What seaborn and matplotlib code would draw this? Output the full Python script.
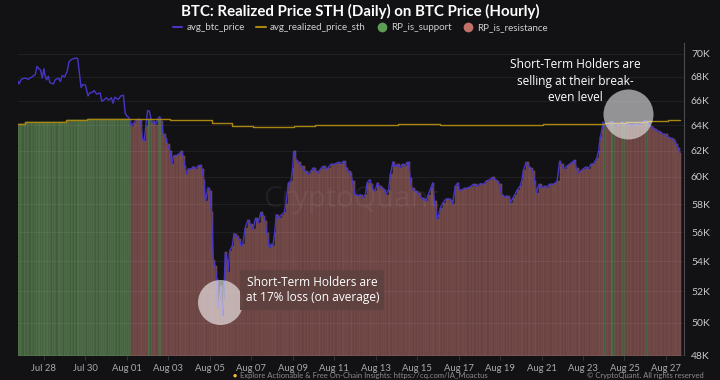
import numpy as np
import pandas as pd
import matplotlib
matplotlib.use("Agg")
import matplotlib.pyplot as plt
import matplotlib.dates as mdates
from matplotlib.lines import Line2D
from matplotlib.ticker import FixedLocator, FuncFormatter, NullLocator
import seaborn as sns

# ---------------- data (hours since 2024-07-28 00:00, BTC price in K USD) -------------
seg_a_hours = [-30, -29, -26, -22, -18, -14, -10, -8, -6, -4, -2, 0, 1, 3, 5, 7, 11, 13, 17, 19,
               21, 24, 27, 29, 32, 36, 39, 41, 43, 45, 48, 51, 53, 56, 58, 61, 65, 67, 70, 72,
               75, 78, 80, 82, 86, 89, 92, 94, 96, 98, 101, 104, 107, 110, 112, 114, 116, 118, 120, 122,
               125, 127, 129, 132, 134, 136, 138, 141, 143, 146, 148, 150, 154, 157, 159, 161, 163, 165, 167, 170,
               173, 175, 178, 181, 183, 185, 187, 190, 192, 194, 196, 198, 200, 201, 203, 205, 206, 208, 210, 212,
               213, 215, 218, 220, 223, 226, 228, 230, 233]
seg_a_price = [67.63, 67.4, 67.8, 67.9, 67.8, 68.0, 68.2, 68.9, 68.7, 68.6, 67.9, 68.7, 68.2, 67.75, 68.05, 67.5, 67.4, 67.75, 67.9, 67.6,
               68.1, 68.0, 68.5, 69.3, 69.5, 69.6, 69.6, 68.35, 67.1, 67.35, 67.3, 66.4, 66.65, 66.7, 66.85, 66.55, 66.65, 65.95, 66.1, 66.25,
               66.05, 66.25, 65.8, 66.3, 66.1, 66.4, 66.45, 65.0, 64.75, 64.65, 63.95, 64.2, 64.45, 64.5, 64.4, 62.9, 62.75, 63.95, 65.2, 65.15,
               64.2, 64.35, 64.05, 64.55, 64.7, 64.35, 63.3, 63.0, 62.5, 61.97, 60.95, 61.6, 61.65, 61.8, 61.97, 61.6, 60.8, 60.2, 60.6, 60.6,
               60.77, 60.6, 60.8, 60.9, 60.6, 59.8, 58.2, 59.2, 58.95, 57.4, 54.1, 53.7, 52.8, 50.9, 51.5, 52.36, 50.44, 51.5, 54.6, 54.1,
               53.25, 54.7, 55.05, 55.9, 55.73, 55.5, 55.05, 55.15, 56.3]

seg_b_hours = [236, 239, 242, 245, 248, 251, 254, 256, 258, 261, 263, 265, 267, 269, 272, 275, 278, 280, 283, 286,
               288, 289, 292, 294, 298, 302, 306, 309, 312, 315, 318, 320, 323, 327, 329, 332, 336, 340, 343, 346,
               347, 350, 352, 355, 357, 360, 363, 366, 369, 372, 374, 377, 379, 381, 383, 386, 388, 391, 394, 396,
               399, 401, 404, 406, 409, 412, 415, 418, 420, 422, 424, 426, 430, 433, 437, 440, 442, 445, 448, 450,
               452, 455, 457, 459, 462, 465, 468, 471, 473, 476, 479, 481]
seg_b_price = [56.85, 56.55, 56.2, 57.0, 56.65, 57.4, 57.15, 56.8, 55.95, 54.9, 55.15, 55.05, 55.95, 57.25, 57.0, 57.25, 57.4, 58.0, 59.55, 59.7,
               60.7, 61.97, 61.25, 61.15, 60.8, 60.44, 60.2, 60.44, 60.7, 60.44, 60.3, 60.6, 60.8, 60.6, 60.7, 60.95, 60.95, 61.1, 61.0, 61.15,
               61.2, 60.7, 60.44, 60.3, 59.7, 58.7, 58.6, 58.7, 58.45, 58.7, 59.55, 59.8, 59.45, 59.05, 58.95, 59.55, 59.3, 59.2, 59.05, 58.7,
               59.05, 60.2, 61.15, 60.8, 60.95, 60.7, 60.95, 60.8, 61.1, 61.1, 59.95, 59.15, 58.95, 58.8, 58.45, 58.35, 58.2, 58.7, 59.2, 59.55,
               58.2, 56.9, 57.25, 57.75, 58.1, 58.35, 58.4, 58.3, 58.0, 59.3, 59.55, 59.0]

seg_c_hours = [484, 486, 489, 493, 497, 501, 505, 509, 512, 516, 519, 522, 525, 527, 530, 533, 536, 539, 540, 543,
               545, 548, 551, 553, 555, 558, 561, 563, 566, 568, 570, 573, 576, 579, 582, 585, 589, 592, 594, 597,
               599, 602, 605, 608, 611, 614, 616, 619, 621, 624, 627, 630, 633, 636, 638, 640, 642, 644, 646, 647,
               651, 653, 656, 658, 661, 665, 669, 673, 676, 680, 684, 688, 692, 696, 699, 702, 705, 707, 710, 713,
               716, 719, 722, 725, 728, 730, 732, 734, 736]
seg_c_price = [59.05, 59.15, 59.15, 59.25, 59.45, 59.3, 59.5, 59.45, 59.7, 59.8, 59.97, 59.8, 59.7, 59.45, 58.7, 58.5, 58.6, 58.45, 58.1, 58.45,
               58.7, 59.05, 59.3, 59.7, 60.5, 61.1, 60.8, 60.7, 60.44, 59.7, 58.8, 59.45, 59.2, 59.3, 59.2, 59.45, 59.45, 59.55, 59.7, 61.2,
               60.95, 60.6, 60.8, 60.95, 61.1, 61.25, 60.7, 60.3, 60.44, 60.6, 60.75, 60.6, 60.95, 61.0, 61.2, 61.45, 61.97, 63.05, 63.7, 64.25,
               63.94, 64.0, 64.3, 64.3, 64.0, 64.05, 64.28, 64.05, 64.1, 64.0, 64.1, 64.05, 64.15, 64.4, 64.2, 63.94, 63.8, 63.7, 63.55, 63.5,
               63.3, 63.3, 63.05, 63.0, 62.9, 62.75, 62.5, 62.25, 61.85]

# Daily realized price of short-term holders (K USD), value changes at 02:00 each day
rp_days = pd.date_range("2024-07-26", "2024-08-27", freq="D").strftime("%Y-%m-%d").tolist()
rp_values = [64.12, 64.23, 64.30, 64.39, 64.52, 64.52, 64.50, 64.50, 64.46, 64.46,
             64.15, 63.92, 63.86, 63.86, 63.97, 64.00, 64.03, 64.03, 64.05, 64.07,
             64.08, 64.05, 64.03, 64.03, 64.03, 64.05, 64.08, 64.10, 64.12, 64.18,
             64.23, 64.34, 64.41]

y_ticks_k = [48, 50, 52, 54, 56, 58, 60, 62, 64, 66, 68, 70]
x_tick_days = pd.date_range("2024-07-28", "2024-08-27", freq="2D").strftime("%Y-%m-%d").tolist()

title = "BTC: Realized Price STH (Daily) on BTC Price (Hourly)"
legend_labels = ["avg_btc_price", "avg_realized_price_sth", "RP_is_support", "RP_is_resistance"]
note_top = "Short-Term Holders are\nselling at their break-\neven level"
note_bottom = "Short-Term Holders are\nat 17% loss (on average)"

# ---------------- styling ----------------
BG = "#121215"
PRICE_C = "#4636c8"
RP_C = "#a8860f"
GREEN = "#435c3e"
GREEN_E = "#58804f"
RED = "#684342"
RED_E = "#7f5350"

sns.set_theme(style="dark", rc={"axes.facecolor": BG, "figure.facecolor": BG})
LATO = ["Lato", "DejaVu Sans"]
OPEN = ["Open Sans", "DejaVu Sans"]
plt.rcParams["font.family"] = LATO

base = pd.Timestamp("2024-07-28")
hours = np.array(seg_a_hours + seg_b_hours + seg_c_hours, dtype=float)
prices = np.array(seg_a_price + seg_b_price + seg_c_price) * 1000
df = pd.DataFrame({"time": base + pd.to_timedelta(hours, unit="h"), "price": prices})

rp_df = pd.DataFrame({"time": pd.to_datetime(rp_days) + pd.Timedelta(hours=2),
                      "rp": np.array(rp_values) * 1000})
df = pd.merge_asof(df, rp_df, on="time")

fig = plt.figure(figsize=(7.2, 3.8), dpi=100)
ax = fig.add_axes([17.6 / 720, 1 - 355.5 / 380, (684 - 17.6) / 720, (355.5 - 43) / 380])
ax.set_facecolor(BG)

# price line first to establish the date axis
sns.lineplot(data=df, x="time", y="price", ax=ax, color=PRICE_C, lw=1.0, legend=False, zorder=4)

# realized price step line, extended to the last sample
rp_line = pd.concat([rp_df, pd.DataFrame({"time": [df["time"].iloc[-1]], "rp": [rp_df["rp"].iloc[-1]]})],
                    ignore_index=True)
sns.lineplot(data=rp_line, x="time", y="rp", ax=ax, color=RP_C, lw=1.0, legend=False,
             drawstyle="steps-post", zorder=4)

# bars: height up to min(price, RP); green where price above RP
t = mdates.date2num(df["time"])
w = np.diff(t, append=t[-1] + (t[-1] - t[-2]))
top = np.minimum(df["price"].values, df["rp"].values)
support = df["price"].values > df["rp"].values
bottom = 40000
ax.bar(t[support], top[support] - bottom, width=w[support], bottom=bottom, align="edge",
       color=GREEN, edgecolor=GREEN_E, linewidth=0.35, zorder=2)
ax.bar(t[~support], top[~support] - bottom, width=w[~support], bottom=bottom, align="edge",
       color=RED, edgecolor=RED_E, linewidth=0.35, zorder=2)

# axes
ax.set_yscale("log")
ax.set_ylim(48000, 70940)
ax.yaxis.set_major_locator(FixedLocator(np.array(y_ticks_k) * 1000))
ax.yaxis.set_minor_locator(NullLocator())
ax.yaxis.set_major_formatter(FuncFormatter(lambda v, p: f"{v / 1000:.0f}K"))
ax.yaxis.tick_right()
ax.set_xlim(mdates.date2num(base + pd.Timedelta(hours=-30.5)),
            mdates.date2num(base + pd.Timedelta(hours=740.9)))
ax.xaxis.set_major_locator(FixedLocator(mdates.date2num(pd.to_datetime(x_tick_days))))
ax.xaxis.set_major_formatter(mdates.DateFormatter("%b %d"))
ax.set_xlabel("")
ax.set_ylabel("")
ax.tick_params(axis="y", length=0, pad=5, labelsize=7.5, labelcolor="#c9c9c9")
ax.tick_params(axis="x", length=3, width=0.6, color="#3a3a40", pad=3, labelsize=6.8, labelcolor="#a9a9a9",
               bottom=True)
for s in ["top", "left", "bottom"]:
    ax.spines[s].set_visible(False)
ax.spines["right"].set_visible(True)
ax.spines["right"].set_color("#4a4a50")
ax.spines["right"].set_linewidth(0.8)
ax.set_axisbelow(False)
ax.grid(axis="y", color="white", alpha=0.07, lw=0.6, zorder=3)
ax.grid(axis="x", visible=False)

# watermark
ax.text(0.5, 0.5, "CryptoQuant", transform=ax.transAxes, ha="center", va="center",
        fontsize=21, color="white", alpha=0.06, family=OPEN, zorder=3)

# highlight circles
c1_t = mdates.date2num(base + pd.Timedelta(hours=676))
c2_t = mdates.date2num(base + pd.Timedelta(hours=204.3))
ax.scatter([c1_t], [64900], s=1296, color="white", alpha=0.55, linewidths=0, zorder=6)
ax.scatter([c2_t], [51300], s=1050, color="white", alpha=0.58, linewidths=0, zorder=6)

# annotations
ax.text(0.8366, 0.8784, note_top, transform=ax.transAxes, ha="center", va="center",
        fontsize=8.6, color="white", family=OPEN, linespacing=1.35, zorder=7)
ax.text(0.4423, 0.2096, note_bottom, transform=ax.transAxes, ha="center", va="center",
        fontsize=8.6, color="white", family=OPEN, linespacing=1.3, zorder=7,
        bbox=dict(boxstyle="square,pad=0.45", facecolor="#5f4240", edgecolor="none", alpha=0.95))

# title and legend
fig.text(0.5, 1 - 11.5 / 380, title, ha="center", va="center", fontsize=10.8, fontweight="bold",
         color="white")
handles = [Line2D([0], [0], color=PRICE_C, lw=1.5),
           Line2D([0], [0], color=RP_C, lw=1.5),
           Line2D([0], [0], marker="o", ls="", markerfacecolor="#5c9e55", markeredgecolor="none", markersize=7),
           Line2D([0], [0], marker="o", ls="", markerfacecolor="#c2716a", markeredgecolor="none", markersize=7)]
leg = fig.legend(handles, legend_labels, loc="center", bbox_to_anchor=(0.5, 1 - 28 / 380), ncol=4,
                 frameon=False, fontsize=7.0, handlelength=1.0, handletextpad=0.4, columnspacing=1.2,
                 labelcolor="#cfcfcf")

# footer (small, at the bottom edge)
fig.text(240 / 720, 1 - 375.5 / 380, "Explore Actionable & Free On-Chain Insights: https://cq.com/IA_Moactus",
         ha="left", va="center", fontsize=5.5, color="#8c8c8c")
fig.text(704 / 720, 1 - 375.5 / 380, "\u00a9 CryptoQuant. All rights reserved",
         ha="right", va="center", fontsize=5.5, color="#8c8c8c")
fig.text(235 / 720, 1 - 375.5 / 380, "\u25cf", ha="center", va="center", fontsize=5, color="#f2c230")

fig.savefig("out.png", dpi=100, facecolor=BG)
